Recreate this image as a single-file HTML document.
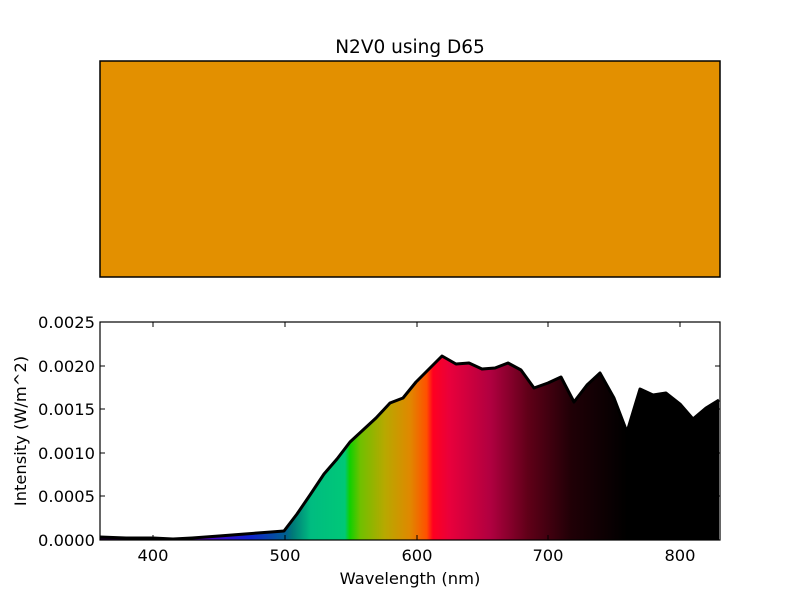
<!DOCTYPE html>
<html><head><meta charset="utf-8"><style>html,body{margin:0;padding:0;background:#fff}</style></head>
<body>
<svg width="800" height="600" xmlns="http://www.w3.org/2000/svg" font-family="DejaVu Sans, Liberation Sans, sans-serif">
<defs>
<linearGradient id="g" gradientUnits="userSpaceOnUse" x1="100" y1="0" x2="720" y2="0">
<stop offset="0" stop-color="#200030"/>
<stop offset="0.16" stop-color="#5a00c0"/>
<stop offset="0.24" stop-color="#1020d0"/>
<stop offset="0.30" stop-color="#006090"/>
<stop offset="0.31" stop-color="#007878"/>
<stop offset="0.34" stop-color="#00bc80"/>
<stop offset="0.395" stop-color="#00c878"/>
<stop offset="0.403" stop-color="#10d000"/>
<stop offset="0.42" stop-color="#70c000"/>
<stop offset="0.46" stop-color="#b8a800"/>
<stop offset="0.50" stop-color="#e08800"/>
<stop offset="0.527" stop-color="#ff5000"/>
<stop offset="0.537" stop-color="#ff0020"/>
<stop offset="0.565" stop-color="#e8003c"/>
<stop offset="0.63" stop-color="#b00040"/>
<stop offset="0.69" stop-color="#600018"/>
<stop offset="0.76" stop-color="#200006"/>
<stop offset="0.85" stop-color="#000000"/>
</linearGradient>
</defs>
<text x="410" y="53" font-size="18.5" text-anchor="middle">N2V0 using D65</text>
<rect x="100" y="61" width="620" height="216" fill="#e39000" stroke="#000" stroke-width="1.5"/>
<polygon fill="url(#g)" points="100,540 100,537 126,538 153,538 173,539 192,538 219,536 245,534 271,532 284,531 297,514 310,495 324,474 337,459 350,442 363,430 376,418 390,403 403,398 416,382 429,369 442,356 456,364 469,363 482,369 495,368 508,363 521,370 534,388 548,383 561,377 574,402 587,385 600,373 614,398 627,432 640,389 653,395 666,393 680,404 693,419 706,408 719,400 719,540"/>
<polyline fill="none" stroke="#000" stroke-width="3" stroke-linejoin="round" points="100,537 126,538 153,538 173,539 192,538 219,536 245,534 271,532 284,531 297,514 310,495 324,474 337,459 350,442 363,430 376,418 390,403 403,398 416,382 429,369 442,356 456,364 469,363 482,369 495,368 508,363 521,370 534,388 548,383 561,377 574,402 587,385 600,373 614,398 627,432 640,389 653,395 666,393 680,404 693,419 706,408 719,400"/>
<rect x="100" y="322" width="620" height="218" fill="none" stroke="#000" stroke-width="1.2"/>
<g stroke="#000" stroke-width="1">
<line x1="153" y1="540" x2="153" y2="535"/><line x1="285" y1="540" x2="285" y2="535"/><line x1="417" y1="540" x2="417" y2="535"/><line x1="548" y1="540" x2="548" y2="535"/><line x1="680" y1="540" x2="680" y2="535"/>
<line x1="153" y1="322" x2="153" y2="327"/><line x1="285" y1="322" x2="285" y2="327"/><line x1="417" y1="322" x2="417" y2="327"/><line x1="548" y1="322" x2="548" y2="327"/><line x1="680" y1="322" x2="680" y2="327"/>
<line x1="100" y1="496" x2="105" y2="496"/><line x1="100" y1="453" x2="105" y2="453"/><line x1="100" y1="409" x2="105" y2="409"/><line x1="100" y1="366" x2="105" y2="366"/>
<line x1="720" y1="496" x2="715" y2="496"/><line x1="720" y1="453" x2="715" y2="453"/><line x1="720" y1="409" x2="715" y2="409"/><line x1="720" y1="366" x2="715" y2="366"/>
</g>
<g font-size="16.3" text-anchor="middle">
<text x="153" y="561">400</text><text x="285" y="561">500</text><text x="417" y="561">600</text><text x="548" y="561">700</text><text x="680" y="561">800</text>
<text x="410" y="584">Wavelength (nm)</text>
</g>
<g font-size="16.3" text-anchor="end">
<text x="95" y="546">0.0000</text><text x="95" y="502">0.0005</text><text x="95" y="459">0.0010</text><text x="95" y="415">0.0015</text><text x="95" y="372">0.0020</text><text x="95" y="328">0.0025</text>
</g>
<text transform="translate(26,431) rotate(-90)" font-size="16.3" text-anchor="middle">Intensity (W/m^2)</text>
</svg>
</body></html>
